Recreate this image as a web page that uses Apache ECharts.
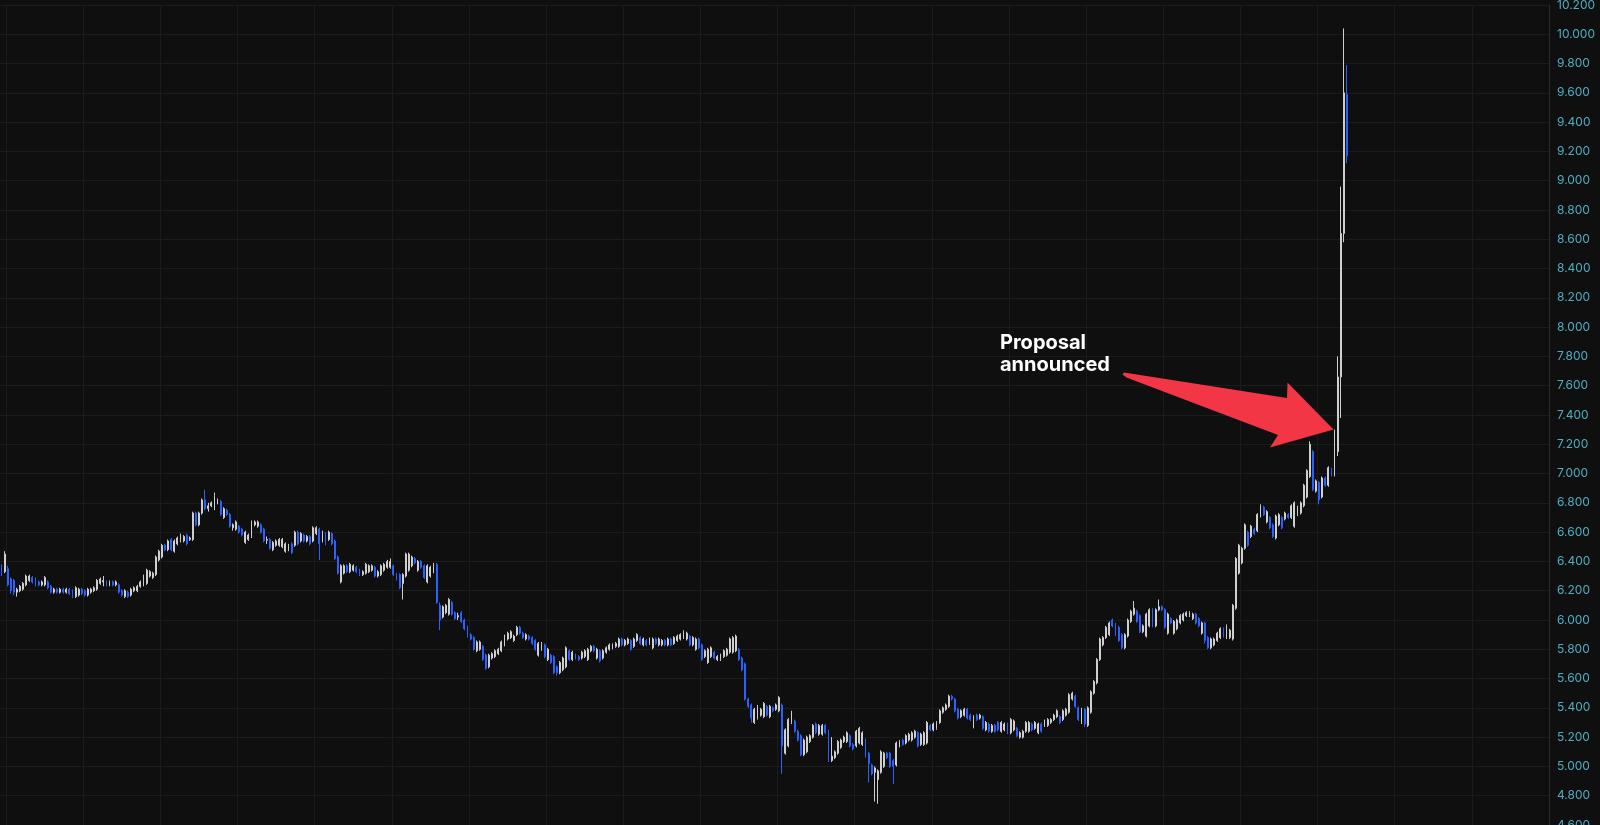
<!DOCTYPE html>
<html><head><meta charset="utf-8">
<script src="https://cdn.jsdelivr.net/npm/echarts@6/dist/echarts.min.js"></script>
<style>html,body{margin:0;padding:0;background:#0f0f0f;overflow:hidden}#c{width:1600px;height:825px;}</style>
</head><body><div id="c"></div>
<script>
// y axis
const yMin = 4.6, yMax = 10.2, yStep = 0.2;
// number of time slots on the x axis (incl. empty space on the right)
const slotCount = 502;
// candles: [open, close, low, high]
const ohlc = [
// 0
[6.36,6.32,6.30,6.38],[6.33,6.45,6.32,6.47],[6.35,6.24,6.23,6.37],[6.28,6.20,6.18,6.29],[6.27,6.19,6.17,6.28],
[6.19,6.21,6.16,6.22],[6.20,6.23,6.19,6.24],[6.21,6.25,6.20,6.26],[6.24,6.30,6.23,6.31],[6.27,6.30,6.26,6.31],
// 10
[6.29,6.26,6.25,6.30],[6.28,6.24,6.23,6.29],[6.26,6.24,6.23,6.27],[6.24,6.26,6.23,6.27],[6.24,6.29,6.23,6.30],
[6.26,6.22,6.21,6.27],[6.23,6.19,6.18,6.24],[6.19,6.21,6.18,6.22],[6.21,6.19,6.18,6.22],[6.19,6.21,6.18,6.22],
// 20
[6.21,6.19,6.18,6.22],[6.19,6.21,6.18,6.22],[6.21,6.18,6.17,6.22],[6.20,6.16,6.15,6.21],[6.16,6.22,6.15,6.23],
[6.17,6.21,6.16,6.22],[6.21,6.18,6.17,6.22],[6.20,6.17,6.16,6.21],[6.17,6.21,6.16,6.22],[6.19,6.21,6.18,6.22],
// 30
[6.20,6.22,6.19,6.23],[6.21,6.27,6.20,6.28],[6.25,6.28,6.24,6.29],[6.26,6.27,6.23,6.30],[6.26,6.24,6.23,6.27],
[6.24,6.26,6.23,6.27],[6.26,6.24,6.23,6.27],[6.24,6.26,6.23,6.27],[6.24,6.19,6.18,6.25],[6.20,6.17,6.16,6.21],
// 40
[6.16,6.20,6.15,6.21],[6.19,6.16,6.15,6.20],[6.17,6.21,6.16,6.22],[6.20,6.22,6.19,6.23],[6.20,6.23,6.19,6.24],
[6.23,6.26,6.22,6.27],[6.24,6.30,6.23,6.31],[6.25,6.34,6.24,6.35],[6.30,6.33,6.29,6.34],[6.29,6.32,6.28,6.33],
// 50
[6.31,6.43,6.30,6.44],[6.41,6.47,6.40,6.48],[6.43,6.51,6.42,6.52],[6.51,6.48,6.47,6.52],[6.48,6.54,6.47,6.55],
[6.55,6.48,6.47,6.56],[6.47,6.54,6.46,6.55],[6.52,6.56,6.51,6.57],[6.54,6.58,6.53,6.59],[6.54,6.57,6.53,6.58],
// 60
[6.58,6.52,6.51,6.59],[6.55,6.56,6.54,6.57],[6.55,6.73,6.54,6.74],[6.73,6.65,6.64,6.74],[6.65,6.73,6.64,6.74],
[6.73,6.82,6.72,6.83],[6.82,6.76,6.75,6.89],[6.76,6.78,6.74,6.80],[6.78,6.80,6.77,6.81],[6.76,6.85,6.75,6.87],
// 70
[6.80,6.82,6.79,6.83],[6.81,6.72,6.71,6.82],[6.70,6.76,6.69,6.77],[6.75,6.72,6.71,6.76],[6.72,6.64,6.63,6.73],
[6.63,6.65,6.61,6.66],[6.62,6.67,6.61,6.68],[6.64,6.60,6.59,6.65],[6.62,6.58,6.57,6.63],[6.53,6.60,6.52,6.61],
// 80
[6.55,6.58,6.54,6.59],[6.57,6.67,6.56,6.68],[6.65,6.67,6.64,6.68],[6.64,6.67,6.63,6.68],[6.65,6.60,6.59,6.66],
[6.62,6.54,6.53,6.63],[6.545,6.55,6.52,6.57],[6.55,6.49,6.48,6.56],[6.48,6.53,6.47,6.54],[6.51,6.54,6.50,6.55],
// 90
[6.51,6.55,6.50,6.56],[6.50,6.55,6.49,6.56],[6.47,6.52,6.46,6.53],[6.48,6.51,6.47,6.52],[6.52,6.46,6.45,6.53],
[6.51,6.60,6.50,6.61],[6.60,6.52,6.51,6.61],[6.54,6.59,6.53,6.60],[6.58,6.54,6.53,6.59],[6.54,6.57,6.53,6.58],
// 100
[6.57,6.52,6.51,6.58],[6.54,6.63,6.53,6.64],[6.59,6.63,6.58,6.64],[6.62,6.52,6.41,6.63],[6.54,6.60,6.53,6.61],
[6.59,6.52,6.51,6.60],[6.55,6.60,6.54,6.61],[6.59,6.52,6.51,6.60],[6.54,6.42,6.41,6.55],[6.43,6.32,6.31,6.44],
// 110
[6.26,6.37,6.25,6.38],[6.32,6.37,6.31,6.38],[6.37,6.33,6.32,6.38],[6.33,6.38,6.32,6.39],[6.34,6.37,6.33,6.38],
[6.36,6.33,6.32,6.37],[6.34,6.31,6.30,6.35],[6.31,6.33,6.30,6.34],[6.32,6.38,6.31,6.39],[6.33,6.37,6.32,6.38],
// 120
[6.34,6.37,6.33,6.38],[6.36,6.30,6.29,6.37],[6.30,6.33,6.29,6.34],[6.31,6.37,6.30,6.38],[6.34,6.38,6.33,6.39],
[6.36,6.40,6.35,6.41],[6.36,6.40,6.35,6.42],[6.37,6.31,6.30,6.38],[6.31,6.28,6.27,6.32],[6.31,6.22,6.21,6.32],
// 130
[6.25,6.31,6.14,6.32],[6.30,6.45,6.29,6.46],[6.34,6.45,6.33,6.46],[6.37,6.43,6.36,6.44],[6.42,6.39,6.38,6.43],
[6.34,6.40,6.33,6.41],[6.40,6.36,6.35,6.41],[6.37,6.29,6.28,6.38],[6.26,6.37,6.25,6.38],[6.30,6.36,6.29,6.37],
// 140
[6.33,6.38,6.32,6.39],[6.38,6.12,6.11,6.39],[6.10,6.00,5.93,6.12],[6.02,6.09,6.01,6.10],[6.05,6.10,6.04,6.11],
[6.04,6.14,6.03,6.15],[6.12,6.04,6.03,6.13],[6.05,6.01,6.00,6.06],[6.02,6.03,6.00,6.05],[6.05,5.99,5.98,6.06],
// 150
[6.00,5.94,5.93,6.01],[5.95,5.89,5.88,5.96],[5.90,5.87,5.86,5.91],[5.88,5.80,5.79,5.89],[5.79,5.85,5.78,5.86],
[5.80,5.85,5.79,5.86],[5.82,5.73,5.72,5.83],[5.76,5.67,5.66,5.77],[5.68,5.76,5.67,5.77],[5.74,5.77,5.73,5.78],
// 160
[5.75,5.79,5.74,5.80],[5.77,5.80,5.76,5.81],[5.79,5.85,5.78,5.86],[5.83,5.89,5.82,5.90],[5.87,5.91,5.86,5.92],
[5.88,5.92,5.87,5.93],[5.86,5.89,5.85,5.90],[5.90,5.95,5.89,5.96],[5.95,5.91,5.90,5.96],[5.91,5.88,5.87,5.92],
// 170
[5.87,5.90,5.86,5.91],[5.89,5.87,5.86,5.90],[5.88,5.84,5.83,5.89],[5.86,5.80,5.79,5.87],[5.76,5.84,5.75,5.85],
[5.80,5.84,5.79,5.85],[5.83,5.75,5.74,5.84],[5.73,5.80,5.72,5.81],[5.76,5.71,5.70,5.77],[5.75,5.64,5.63,5.76],
// 180
[5.68,5.64,5.62,5.69],[5.64,5.71,5.63,5.72],[5.66,5.74,5.65,5.75],[5.68,5.81,5.67,5.82],[5.79,5.73,5.72,5.80],
[5.73,5.78,5.72,5.79],[5.76,5.74,5.73,5.77],[5.75,5.73,5.72,5.76],[5.74,5.78,5.73,5.79],[5.75,5.79,5.74,5.80],
// 190
[5.73,5.80,5.72,5.81],[5.79,5.82,5.78,5.83],[5.82,5.79,5.78,5.83],[5.74,5.80,5.73,5.81],[5.79,5.72,5.71,5.80],
[5.74,5.79,5.73,5.80],[5.78,5.81,5.77,5.82],[5.80,5.83,5.79,5.84],[5.81,5.83,5.80,5.84],[5.82,5.84,5.81,5.85],
// 200
[5.82,5.87,5.81,5.88],[5.87,5.83,5.82,5.88],[5.83,5.86,5.82,5.87],[5.84,5.87,5.83,5.88],[5.86,5.80,5.79,5.87],
[5.82,5.87,5.81,5.88],[5.86,5.90,5.85,5.91],[5.88,5.84,5.83,5.89],[5.83,5.87,5.82,5.88],[5.86,5.83,5.82,5.87],
// 210
[5.84,5.87,5.83,5.88],[5.81,5.87,5.80,5.88],[5.87,5.84,5.83,5.88],[5.83,5.87,5.82,5.88],[5.83,5.86,5.82,5.87],
[5.86,5.83,5.82,5.87],[5.83,5.87,5.82,5.88],[5.87,5.83,5.82,5.88],[5.84,5.88,5.83,5.89],[5.86,5.89,5.85,5.90],
// 220
[5.87,5.90,5.86,5.91],[5.88,5.92,5.87,5.93],[5.87,5.91,5.86,5.92],[5.89,5.83,5.82,5.90],[5.83,5.88,5.82,5.89],
[5.80,5.87,5.79,5.88],[5.87,5.81,5.80,5.88],[5.83,5.73,5.72,5.84],[5.75,5.79,5.74,5.80],[5.71,5.80,5.70,5.81],
// 230
[5.75,5.81,5.74,5.82],[5.78,5.74,5.73,5.79],[5.73,5.75,5.72,5.76],[5.73,5.76,5.72,5.77],[5.75,5.79,5.74,5.80],
[5.76,5.80,5.75,5.81],[5.78,5.87,5.77,5.88],[5.78,5.88,5.77,5.89],[5.79,5.89,5.78,5.90],[5.80,5.73,5.72,5.81],
// 240
[5.74,5.66,5.65,5.75],[5.70,5.46,5.45,5.71],[5.46,5.41,5.40,5.47],[5.42,5.33,5.30,5.43],[5.30,5.39,5.29,5.40],
[5.33,5.41,5.32,5.42],[5.35,5.39,5.34,5.40],[5.34,5.43,5.33,5.44],[5.41,5.35,5.34,5.42],[5.34,5.41,5.33,5.42],
// 250
[5.40,5.38,5.37,5.41],[5.39,5.42,5.38,5.43],[5.38,5.47,5.37,5.48],[5.42,5.14,4.95,5.43],[5.09,5.25,5.08,5.26],
[5.14,5.32,5.13,5.33],[5.30,5.37,5.29,5.38],[5.31,5.24,5.23,5.32],[5.24,5.18,5.17,5.25],[5.21,5.08,5.07,5.22],
// 260
[5.08,5.18,5.07,5.19],[5.10,5.20,5.09,5.21],[5.17,5.21,5.16,5.22],[5.20,5.28,5.19,5.29],[5.29,5.23,5.22,5.30],
[5.22,5.28,5.21,5.29],[5.22,5.28,5.21,5.29],[5.28,5.23,5.22,5.29],[5.24,5.04,5.03,5.25],[5.04,5.07,5.03,5.20],
// 270
[5.06,5.10,5.05,5.11],[5.09,5.17,5.08,5.18],[5.13,5.18,5.12,5.19],[5.17,5.20,5.16,5.21],[5.17,5.23,5.16,5.24],
[5.21,5.14,5.13,5.22],[5.15,5.12,5.11,5.16],[5.14,5.24,5.13,5.25],[5.16,5.26,5.15,5.27],[5.15,5.23,5.14,5.24],
// 280
[5.18,5.07,5.06,5.19],[5.09,5.02,4.89,5.10],[5.01,4.95,4.94,5.02],[4.96,4.99,4.76,5.00],[4.91,4.97,4.745,4.98],
[4.96,5.10,4.95,5.11],[5.00,5.09,4.99,5.10],[5.09,5.06,5.05,5.10],[5.09,5.00,4.99,5.10],[5.04,5.00,4.88,5.05],
// 290
[5.01,5.16,5.00,5.17],[5.14,5.17,5.13,5.18],[5.18,5.15,5.14,5.19],[5.16,5.21,5.15,5.22],[5.18,5.22,5.17,5.23],
[5.18,5.23,5.17,5.24],[5.20,5.24,5.19,5.25],[5.23,5.14,5.13,5.24],[5.15,5.22,5.14,5.23],[5.15,5.23,5.14,5.24],
// 300
[5.16,5.30,5.15,5.31],[5.28,5.25,5.24,5.29],[5.25,5.29,5.24,5.30],[5.26,5.30,5.25,5.31],[5.30,5.38,5.29,5.39],
[5.37,5.40,5.36,5.41],[5.39,5.42,5.38,5.43],[5.41,5.48,5.40,5.49],[5.48,5.46,5.45,5.49],[5.46,5.38,5.37,5.47],
// 310
[5.39,5.33,5.32,5.40],[5.34,5.38,5.33,5.39],[5.35,5.39,5.34,5.40],[5.39,5.33,5.32,5.40],[5.35,5.32,5.31,5.36],
[5.32,5.34,5.26,5.35],[5.35,5.32,5.31,5.36],[5.33,5.35,5.32,5.36],[5.34,5.26,5.25,5.35],[5.25,5.30,5.24,5.31],
// 320
[5.29,5.24,5.23,5.30],[5.24,5.28,5.23,5.29],[5.28,5.24,5.23,5.29],[5.30,5.25,5.24,5.31],[5.24,5.30,5.23,5.31],
[5.25,5.29,5.24,5.30],[5.29,5.23,5.22,5.30],[5.23,5.32,5.22,5.33],[5.25,5.31,5.24,5.32],[5.26,5.21,5.20,5.27],
// 330
[5.20,5.23,5.19,5.24],[5.20,5.24,5.19,5.25],[5.24,5.30,5.23,5.31],[5.24,5.30,5.23,5.31],[5.29,5.25,5.24,5.30],
[5.26,5.30,5.25,5.31],[5.23,5.29,5.22,5.30],[5.29,5.24,5.23,5.30],[5.28,5.31,5.27,5.32],[5.28,5.32,5.27,5.33],
// 340
[5.30,5.32,5.29,5.33],[5.32,5.35,5.31,5.36],[5.34,5.38,5.33,5.39],[5.34,5.30,5.29,5.35],[5.32,5.38,5.31,5.39],
[5.35,5.39,5.34,5.40],[5.37,5.49,5.36,5.50],[5.46,5.50,5.45,5.51],[5.48,5.41,5.40,5.49],[5.40,5.32,5.31,5.41],
// 350
[5.30,5.39,5.29,5.40],[5.39,5.29,5.27,5.40],[5.28,5.40,5.27,5.41],[5.37,5.51,5.36,5.52],[5.50,5.58,5.49,5.59],
[5.57,5.73,5.56,5.74],[5.73,5.87,5.72,5.88],[5.83,5.88,5.82,5.89],[5.88,5.95,5.87,5.96],[5.90,5.98,5.89,5.99],
// 360
[6.00,5.96,5.95,6.01],[5.97,5.90,5.89,5.98],[5.95,5.86,5.85,5.96],[5.90,5.81,5.80,5.91],[5.81,5.90,5.80,5.91],
[5.89,6.00,5.88,6.01],[5.99,6.06,5.98,6.07],[6.04,6.08,6.03,6.13],[6.06,5.99,5.98,6.07],[6.03,5.92,5.91,6.04],
// 370
[5.92,5.96,5.91,5.97],[5.89,6.04,5.88,6.05],[5.96,6.07,5.95,6.08],[6.07,5.96,5.95,6.08],[5.96,6.07,5.95,6.08],
[6.07,6.09,6.06,6.14],[6.09,6.07,6.06,6.10],[6.07,5.95,5.94,6.08],[5.91,6.04,5.90,6.05],[6.01,5.98,5.97,6.02],
// 380
[5.91,5.99,5.90,6.00],[5.94,6.00,5.93,6.01],[5.98,6.03,5.97,6.04],[6.00,6.04,5.99,6.05],[6.03,6.05,6.02,6.06],
[6.03,6.05,6.02,6.06],[6.01,6.04,6.00,6.05],[6.04,5.98,5.97,6.05],[6.01,5.96,5.95,6.02],[5.91,5.98,5.90,5.99],
// 390
[5.98,5.86,5.84,5.99],[5.88,5.81,5.80,5.89],[5.81,5.87,5.80,5.88],[5.83,5.87,5.82,5.88],[5.86,5.91,5.85,5.92],
[5.88,5.94,5.87,5.95],[5.94,5.89,5.88,5.95],[5.88,5.96,5.87,5.97],[5.88,5.93,5.87,5.94],[5.87,6.10,5.86,6.11],
// 400
[6.08,6.42,6.07,6.43],[6.32,6.51,6.31,6.52],[6.39,6.49,6.38,6.50],[6.49,6.65,6.48,6.66],[6.60,6.51,6.50,6.61],
[6.57,6.64,6.56,6.65],[6.62,6.59,6.58,6.63],[6.61,6.72,6.60,6.73],[6.71,6.78,6.70,6.79],[6.77,6.72,6.71,6.78],
// 410
[6.67,6.74,6.66,6.75],[6.70,6.63,6.62,6.71],[6.65,6.57,6.56,6.66],[6.56,6.71,6.55,6.72],[6.65,6.72,6.64,6.73],
[6.70,6.63,6.62,6.71],[6.69,6.73,6.68,6.74],[6.72,6.70,6.69,6.73],[6.70,6.78,6.69,6.79],[6.64,6.80,6.63,6.81],
// 420
[6.72,6.77,6.71,6.78],[6.73,6.80,6.72,6.81],[6.78,6.92,6.77,6.93],[6.84,7.02,6.83,7.03],[6.98,7.20,6.97,7.22],
[7.15,6.89,6.88,7.16],[6.88,6.95,6.87,6.96],[6.94,6.82,6.79,6.95],[6.84,6.97,6.83,6.98],[6.97,6.92,6.91,6.98],
// 430
[6.92,7.04,6.91,7.05],[7.03,6.99,6.98,7.04],[6.99,7.16,6.98,7.30],[7.15,7.66,7.12,7.80],[7.66,8.64,7.38,8.96],
[8.64,9.60,8.58,10.04],[9.59,9.17,9.12,9.79]
];
const annotation = ['Proposal', 'announced'];

const slots = Array.from({length: slotCount}, (_, i) => String(i));
const chart = echarts.init(document.getElementById('c'), null, {renderer: 'canvas'});
chart.setOption({
  backgroundColor: '#0f0f0f',
  animation: false,
  grid: {left: 0, right: 51, top: 5, bottom: 0, containLabel: false, outerBoundsMode: 'none'},
  xAxis: {
    type: 'category', data: slots, boundaryGap: true,
    axisLine: {show: false}, axisTick: {show: false}, axisLabel: {show: false},
    splitLine: {show: true, interval: (i) => i % 25 === 2, lineStyle: {color: '#1b1b1b', width: 1}}
  },
  yAxis: {
    type: 'value', position: 'right', min: yMin, max: yMax, interval: yStep,
    axisLine: {show: true, lineStyle: {color: '#2a2a2a'}},
    axisTick: {show: false},
    axisLabel: {color: '#4fadc2', fontSize: 12, fontFamily: 'Inter, Roboto, sans-serif', margin: 8,
      showMinLabel: true, showMaxLabel: true, formatter: v => v.toFixed(3)},
    splitLine: {show: true, lineStyle: {color: '#1c1c1c', width: 1}}
  },
  series: [{
    type: 'candlestick', data: ohlc, barWidth: 1.4,
    itemStyle: {color: '#e2e2e2', color0: '#2962ff', borderColor: '#cfcfcf', borderColor0: '#2962ff', borderWidth: 1}
  }],
  graphic: [
    {type: 'polygon', shape: {points: [[1122.5,374.5],[1124,372.5],[1287,398],[1287.5,382.5],[1333.5,429.5],[1270,447.5],[1278,435],[1126.5,377.5]]},
      style: {fill: '#f23645'}, z: 10},
    {type: 'text', x: 1000, y: 343, style: {text: annotation[0], fill: '#ffffff', font: 'bold 20px Inter, sans-serif', verticalAlign: 'middle'}, z: 10},
    {type: 'text', x: 1000, y: 365, style: {text: annotation[1], fill: '#ffffff', font: 'bold 20px Inter, sans-serif', verticalAlign: 'middle'}, z: 10}
  ]
});
</script>
</body></html>
